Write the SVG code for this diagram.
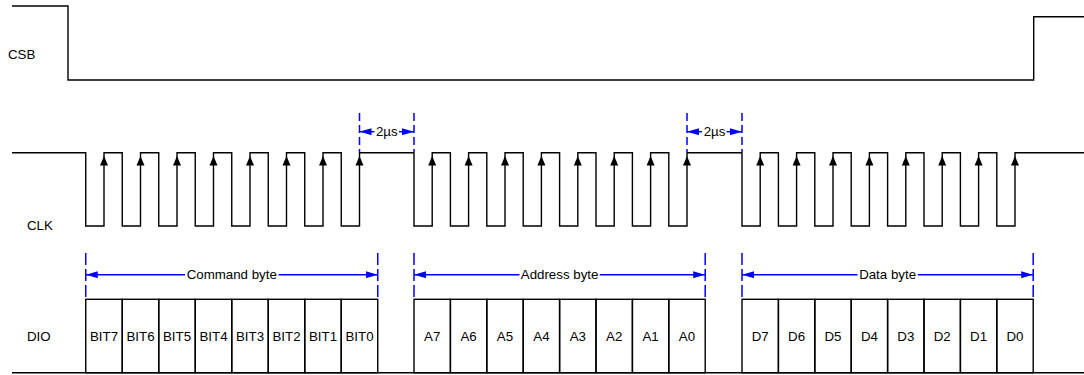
<svg xmlns="http://www.w3.org/2000/svg" xmlns:xlink="http://www.w3.org/1999/xlink" width="1084" height="375" viewBox="0 0 1084 375">
<style>
.w{fill:none;stroke:#000;stroke-width:1.4}
.box{fill:none;stroke:#000;stroke-width:1.4}
.t{font-family:"Liberation Sans",Arial,sans-serif;font-size:13.3px;fill:#000}
.c{text-anchor:middle}
.dl{stroke:#0000ff;stroke-width:1.5;fill:none}
.dash{stroke:#0000ff;stroke-width:1.5;stroke-dasharray:12 4;fill:none}
.dash2{stroke:#0000ff;stroke-width:1.5;stroke-dasharray:8 4;fill:none}
</style>
<defs>
<marker id="ba" viewBox="0 0 12 7" refX="12" refY="3.5" markerWidth="12" markerHeight="7" markerUnits="userSpaceOnUse" orient="auto-start-reverse">
<path d="M0,0 L12,3.5 L0,7 z" fill="#0000ff"/>
</marker>
<path id="up" d="M0,156 L-4,165.5 L4,165.5 z" fill="#000"/>
</defs>
<g id="labels">
<text class="t" x="8" y="59">CSB</text>
<text class="t" x="27" y="230">CLK</text>
<text class="t" x="27" y="341">DIO</text>
</g>
<g id="csb">
<path class="w" d="M12,6 H68 V80 H1033.7 V16.7 H1084"/>
</g>
<g id="clk">
<path class="w" d="M12,152.7 H85.75 V226 H104 V152.7 H122.25 V226 H140.5 V152.7 H158.75 V226 H177 V152.7 H195.25 V226 H213.5 V152.7 H231.75 V226 H250 V152.7 H268.25 V226 H286.5 V152.7 H304.75 V226 H323 V152.7 H341.25 V226 H359.5 V152.7 H414 V226 H432.2 V152.7 H450.4 V226 H468.6 V152.7 H486.8 V226 H505 V152.7 H523.2 V226 H541.4 V152.7 H559.6 V226 H577.8 V152.7 H596 V226 H614.2 V152.7 H632.4 V226 H650.6 V152.7 H668.8 V226 H687 V152.7 H742 V226 H760.2 V152.7 H778.4 V226 H796.6 V152.7 H814.8 V226 H833 V152.7 H851.2 V226 H869.4 V152.7 H887.6 V226 H905.8 V152.7 H924 V226 H942.2 V152.7 H960.4 V226 H978.6 V152.7 H996.8 V226 H1015 V152.7 H1084"/>
<use xlink:href="#up" x="104"/><use xlink:href="#up" x="140.5"/><use xlink:href="#up" x="177"/><use xlink:href="#up" x="213.5"/><use xlink:href="#up" x="250"/><use xlink:href="#up" x="286.5"/><use xlink:href="#up" x="323"/><use xlink:href="#up" x="359.5"/>
<use xlink:href="#up" x="432.2"/><use xlink:href="#up" x="468.6"/><use xlink:href="#up" x="505"/><use xlink:href="#up" x="541.4"/><use xlink:href="#up" x="577.8"/><use xlink:href="#up" x="614.2"/><use xlink:href="#up" x="650.6"/><use xlink:href="#up" x="687"/>
<use xlink:href="#up" x="760.2"/><use xlink:href="#up" x="796.6"/><use xlink:href="#up" x="833"/><use xlink:href="#up" x="869.4"/><use xlink:href="#up" x="905.8"/><use xlink:href="#up" x="942.2"/><use xlink:href="#up" x="978.6"/><use xlink:href="#up" x="1015"/>
</g>
<g id="dio">
<line class="w" x1="12" y1="372.7" x2="1084" y2="372.7"/>
<g id="command-bits">
<rect class="box" x="85.75" y="299.3" width="36.5" height="73.4"/>
<rect class="box" x="122.25" y="299.3" width="36.5" height="73.4"/>
<rect class="box" x="158.75" y="299.3" width="36.5" height="73.4"/>
<rect class="box" x="195.25" y="299.3" width="36.5" height="73.4"/>
<rect class="box" x="231.75" y="299.3" width="36.5" height="73.4"/>
<rect class="box" x="268.25" y="299.3" width="36.5" height="73.4"/>
<rect class="box" x="304.75" y="299.3" width="36.5" height="73.4"/>
<rect class="box" x="341.25" y="299.3" width="36.5" height="73.4"/>
<text class="t c" x="104" y="340.7">BIT7</text>
<text class="t c" x="140.5" y="340.7">BIT6</text>
<text class="t c" x="177" y="340.7">BIT5</text>
<text class="t c" x="213.5" y="340.7">BIT4</text>
<text class="t c" x="250" y="340.7">BIT3</text>
<text class="t c" x="286.5" y="340.7">BIT2</text>
<text class="t c" x="323" y="340.7">BIT1</text>
<text class="t c" x="359.5" y="340.7">BIT0</text>
</g>
<g id="address-bits">
<rect class="box" x="414" y="299.3" width="36.4" height="73.4"/>
<rect class="box" x="450.4" y="299.3" width="36.4" height="73.4"/>
<rect class="box" x="486.8" y="299.3" width="36.4" height="73.4"/>
<rect class="box" x="523.2" y="299.3" width="36.4" height="73.4"/>
<rect class="box" x="559.6" y="299.3" width="36.4" height="73.4"/>
<rect class="box" x="596" y="299.3" width="36.4" height="73.4"/>
<rect class="box" x="632.4" y="299.3" width="36.4" height="73.4"/>
<rect class="box" x="668.8" y="299.3" width="36.4" height="73.4"/>
<text class="t c" x="432.2" y="340.7">A7</text>
<text class="t c" x="468.6" y="340.7">A6</text>
<text class="t c" x="505" y="340.7">A5</text>
<text class="t c" x="541.4" y="340.7">A4</text>
<text class="t c" x="577.8" y="340.7">A3</text>
<text class="t c" x="614.2" y="340.7">A2</text>
<text class="t c" x="650.6" y="340.7">A1</text>
<text class="t c" x="687" y="340.7">A0</text>
</g>
<g id="data-bits">
<rect class="box" x="742" y="299.3" width="36.4" height="73.4"/>
<rect class="box" x="778.4" y="299.3" width="36.4" height="73.4"/>
<rect class="box" x="814.8" y="299.3" width="36.4" height="73.4"/>
<rect class="box" x="851.2" y="299.3" width="36.4" height="73.4"/>
<rect class="box" x="887.6" y="299.3" width="36.4" height="73.4"/>
<rect class="box" x="924" y="299.3" width="36.4" height="73.4"/>
<rect class="box" x="960.4" y="299.3" width="36.4" height="73.4"/>
<rect class="box" x="996.8" y="299.3" width="36.4" height="73.4"/>
<text class="t c" x="760.2" y="340.7">D7</text>
<text class="t c" x="796.6" y="340.7">D6</text>
<text class="t c" x="833" y="340.7">D5</text>
<text class="t c" x="869.4" y="340.7">D4</text>
<text class="t c" x="905.8" y="340.7">D3</text>
<text class="t c" x="942.2" y="340.7">D2</text>
<text class="t c" x="978.6" y="340.7">D1</text>
<text class="t c" x="1015" y="340.7">D0</text>
</g>
</g>
<g id="dimensions">
<path class="dash" d="M85.75,253 V299 M377.75,253 V299 M414,253 V299 M705.2,253 V299 M742,253 V299 M1033.2,253 V299"/>
<line class="dl" x1="85.75" y1="274.7" x2="185" y2="274.7" marker-start="url(#ba)"/>
<line class="dl" x1="278.5" y1="274.7" x2="377.75" y2="274.7" marker-end="url(#ba)"/>
<line class="dl" x1="414" y1="274.7" x2="519.5" y2="274.7" marker-start="url(#ba)"/>
<line class="dl" x1="599.7" y1="274.7" x2="705.2" y2="274.7" marker-end="url(#ba)"/>
<line class="dl" x1="742" y1="274.7" x2="857.5" y2="274.7" marker-start="url(#ba)"/>
<line class="dl" x1="917.7" y1="274.7" x2="1033.2" y2="274.7" marker-end="url(#ba)"/>
<text class="t c" x="231.75" y="279.3">Command byte</text>
<text class="t c" x="559.6" y="279.3">Address byte</text>
<text class="t c" x="887.6" y="279.3">Data byte</text>
<path class="dash2" d="M359.5,113 V152 M414,113 V152 M687,113 V152 M742,113 V152"/>
<line class="dl" x1="359.5" y1="131.7" x2="374.5" y2="131.7" marker-start="url(#ba)"/>
<line class="dl" x1="399" y1="131.7" x2="414" y2="131.7" marker-end="url(#ba)"/>
<line class="dl" x1="687" y1="131.7" x2="702" y2="131.7" marker-start="url(#ba)"/>
<line class="dl" x1="726.5" y1="131.7" x2="742" y2="131.7" marker-end="url(#ba)"/>
<text class="t c" x="386.75" y="136.3">2µs</text>
<text class="t c" x="714.5" y="136.3">2µs</text>
</g>
</svg>
